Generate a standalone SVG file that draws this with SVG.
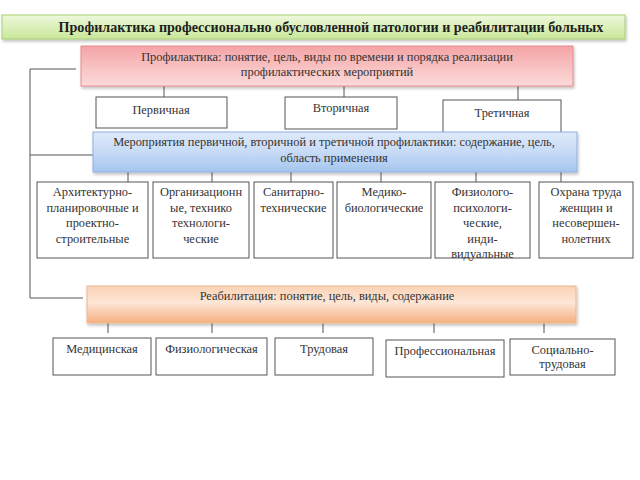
<svg xmlns="http://www.w3.org/2000/svg" width="640" height="480" viewBox="0 0 640 480">
<defs>
<linearGradient id="gGreen" x1="0" y1="0" x2="0" y2="1"><stop offset="0" stop-color="#eef8dc"/><stop offset="1" stop-color="#c8e79a"/></linearGradient>
<linearGradient id="gRed" x1="0" y1="0" x2="0" y2="1"><stop offset="0" stop-color="#f4a3a5"/><stop offset="0.6" stop-color="#f9c6c6"/><stop offset="1" stop-color="#fcdada"/></linearGradient>
<linearGradient id="gBlue" x1="0" y1="0" x2="0" y2="1"><stop offset="0" stop-color="#dfeafa"/><stop offset="0.5" stop-color="#c7dbf6"/><stop offset="1" stop-color="#a4c5ef"/></linearGradient>
<linearGradient id="gOrange" x1="0" y1="0" x2="0" y2="1"><stop offset="0" stop-color="#fad2b4"/><stop offset="0.45" stop-color="#fde6d6"/><stop offset="1" stop-color="#f5b080"/></linearGradient>
<filter id="sh" x="-5%" y="-20%" width="110%" height="150%"><feDropShadow dx="1" dy="2" stdDeviation="1.5" flood-color="#000" flood-opacity="0.25"/></filter>
</defs>
<style>
text{font-family:"Liberation Serif","Times New Roman",serif;fill:#333;font-size:12.4px;text-anchor:middle}
.title{font-weight:bold;font-size:14.1px;fill:#1e1e1e}
.box{fill:#fff;stroke:#555;stroke-width:1}
.conn{stroke:#555;stroke-width:1;fill:none}
</style>
<g id="connectors" class="conn">
<path d="M76,69 H30 V298 H83"/>
<path d="M30,155 H93"/>
<path d="M164,86 V97 M344,86 V97 M518,86 V100"/>
<path d="M128,172 V182 M212,172 V182 M291,172 V182 M381,172 V182 M476,172 V182 M561,172 V182"/>
<path d="M108,323 V333 M212,323 V333 M323,323 V333 M434,323 V333 M544,323 V333"/>
</g>
<g id="title"><rect x="2" y="15" width="623" height="24" fill="url(#gGreen)" stroke="#a8cf73" filter="url(#sh)"/><text class="title" x="331" y="32">Профилактика профессионально обусловленной патологии и реабилитации больных</text></g>
<g id="prof"><rect x="81" y="46" width="492" height="40" fill="url(#gRed)" stroke="#e58a8c" filter="url(#sh)"/><text x="327" y="61">Профилактика: понятие, цель, виды по времени и порядка реализации</text><text x="327" y="76">профилактических мероприятий</text></g>
<g id="perv"><rect class="box" x="96" y="97" width="131" height="31"/><text x="161" y="114">Первичная</text></g>
<g id="vtor"><rect class="box" x="285" y="97" width="112" height="32"/><text x="341" y="112">Вторичная</text></g>
<g id="tret"><rect class="box" x="443" y="100" width="118" height="36"/><text x="502" y="117">Третичная</text></g>
<g id="mer"><rect x="93" y="132" width="484" height="40" fill="url(#gBlue)" stroke="#8eb0e2" filter="url(#sh)"/><text x="334" y="146">Мероприятия первичной, вторичной и третичной профилактики: содержание, цель,</text><text x="334" y="162">область применения</text></g>
<g id="arch"><rect class="box" x="37" y="182" width="111" height="76"/><text x="92.5" y="196">Архитектурно-</text><text x="92.5" y="211.5">планировочные и</text><text x="92.5" y="227">проектно-</text><text x="92.5" y="242.5">строительные</text></g>
<g id="org"><rect class="box" x="153" y="182" width="96" height="76"/><text x="201" y="196">Организационн</text><text x="201" y="211.5">ые, технико</text><text x="201" y="227">технологи-</text><text x="201" y="242.5">ческие</text></g>
<g id="san"><rect class="box" x="254" y="182" width="79" height="76"/><text x="293.5" y="196">Санитарно-</text><text x="293.5" y="211.5">технические</text></g>
<g id="med"><rect class="box" x="337" y="182" width="94" height="76"/><text x="384" y="196">Медико-</text><text x="384" y="211.5">биологические</text></g>
<g id="fiz"><rect class="box" x="435" y="182" width="95" height="76"/><text x="482.5" y="196">Физиолого-</text><text x="482.5" y="211.5">психологи-</text><text x="482.5" y="227">ческие,</text><text x="482.5" y="242.5">инди-</text><text x="482.5" y="258">видуальные</text></g>
<g id="ohr"><rect class="box" x="539" y="182" width="94" height="76"/><text x="586" y="196">Охрана труда</text><text x="586" y="211.5">женщин и</text><text x="586" y="227">несовершен-</text><text x="586" y="242.5">нолетних</text></g>
<g id="reab"><rect x="87" y="286" width="489" height="37" fill="url(#gOrange)" stroke="#efb78d" filter="url(#sh)"/><text x="327" y="300">Реабилитация: понятие, цель, виды, содержание</text></g>
<g id="medr"><rect class="box" x="53" y="338" width="98" height="37"/><text x="102" y="353">Медицинская</text></g>
<g id="fizr"><rect class="box" x="156" y="338" width="111" height="37"/><text x="211.5" y="353">Физиологическая</text></g>
<g id="trud"><rect class="box" x="275" y="338" width="98" height="37"/><text x="324" y="353">Трудовая</text></g>
<g id="profr"><rect class="box" x="386" y="340" width="118" height="37"/><text x="445" y="355">Профессиональная</text></g>
<g id="soc"><rect class="box" x="510" y="339" width="105" height="36"/><text x="562.5" y="354">Социально-</text><text x="562.5" y="368">трудовая</text></g>
</svg>
